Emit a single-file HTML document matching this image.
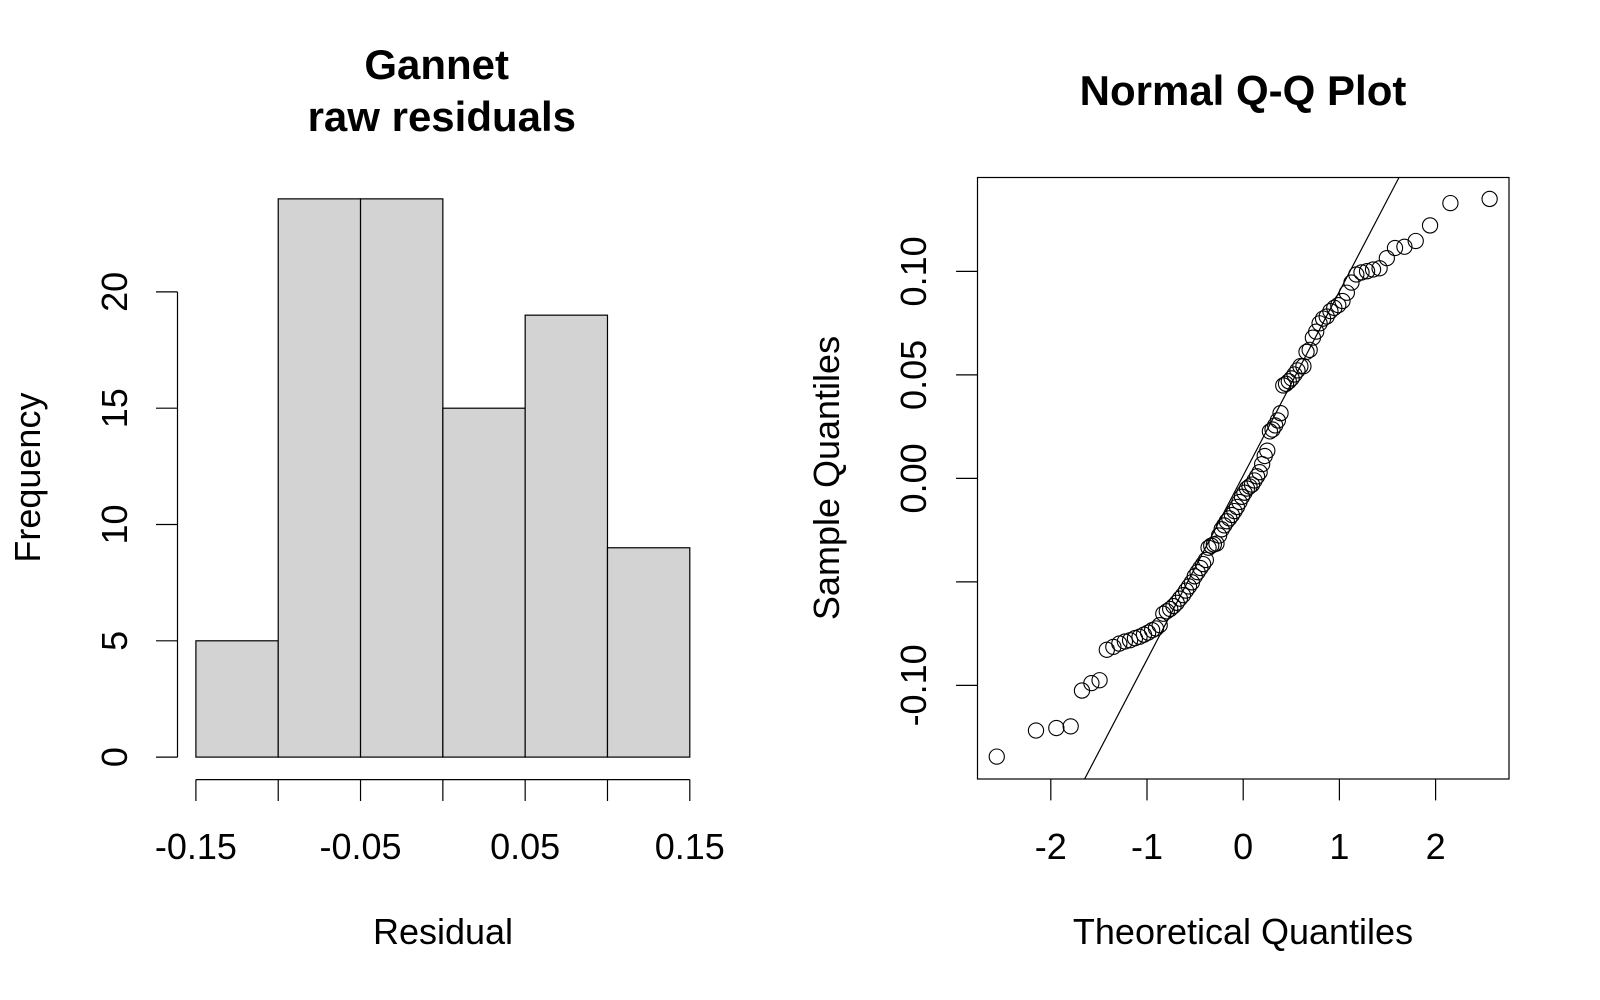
<!DOCTYPE html>
<html><head><meta charset="utf-8"><style>
html,body{margin:0;padding:0;background:#fff;overflow:hidden;width:1600px;height:1000px;}
svg{display:block;font-family:"Liberation Sans",Arial,sans-serif;}
</style></head><body>
<svg id="chart" width="1600" height="1000" viewBox="0 0 1600 1000" xmlns="http://www.w3.org/2000/svg">
<g id="hist"></g>
<g id="qq"></g>
</svg>
<script>
const histBreaks = [-0.15, -0.10, -0.05, 0.00, 0.05, 0.10, 0.15];
const histCounts = [5, 24, 24, 15, 19, 9];
const histXTickLabels = ["-0.15", "-0.05", "0.05", "0.15"];
const histXTickValues = [-0.15, -0.05, 0.05, 0.15];
const histYTicks = [0, 5, 10, 15, 20];
const qqSample = [-0.1344,-0.1218,-0.1206,-0.1198,-0.1025,-0.0989,-0.0975,-0.0828,-0.0814,-0.0798,
-0.0788,-0.0782,-0.0772,-0.0765,-0.0755,-0.0745,-0.0733,-0.0725,-0.0709,-0.0654,
-0.0642,-0.0631,-0.0617,-0.0601,-0.0581,-0.0564,-0.0542,-0.0522,-0.0502,-0.0473,
-0.0453,-0.0433,-0.0414,-0.0394,-0.0335,-0.0325,-0.0319,-0.0315,-0.0276,-0.0246,
-0.0227,-0.0207,-0.0193,-0.0177,-0.0158,-0.0138,-0.0114,-0.0089,-0.0069,-0.0049,
-0.0039,-0.0030,-0.0010,0.0010,0.0030,0.0069,0.0108,0.0134,0.0227,0.0236,
0.0256,0.0280,0.0315,0.0449,0.0457,0.0469,0.0483,0.0502,0.0522,0.0542,
0.0542,0.0611,0.0621,0.0680,0.0709,0.0749,0.0772,0.0782,0.0808,0.0824,
0.0837,0.0857,0.0897,0.0946,0.0985,0.0995,0.1001,0.1009,0.1015,0.1064,
0.1113,0.1119,0.1147,0.1222,0.1330,0.1350];
const qqXTicks = [-2, -1, 0, 1, 2];
const qqYTicks = [-0.10, -0.05, 0.00, 0.05, 0.10];
const qqYTickLabels = ["-0.10", "", "0.00", "0.05", "0.10"];

const NS = "http://www.w3.org/2000/svg";
function mk(parent, tag, attrs, text) {
  const e = document.createElementNS(NS, tag);
  for (const k in attrs) e.setAttribute(k, attrs[k]);
  if (text !== undefined) e.textContent = text;
  parent.appendChild(e);
  return e;
}
const FS = 36;
const TFS = 42;

// ---------- Histogram ----------
const H = document.getElementById('hist');
const hx = v => 195.9 + (v - (-0.15)) / 0.30 * (689.8 - 195.9);
const hy = v => 757.1 - v * 23.26;
histCounts.forEach((c, i) => {
  const r = mk(H, 'rect', {x: hx(histBreaks[i]), y: hy(c), width: hx(histBreaks[i+1]) - hx(histBreaks[i]), height: hy(0) - hy(c), fill: '#d3d3d3', stroke: '#000', 'stroke-width': 1.2});
  
  
});
let l = mk(H, 'line', {x1: hx(histBreaks[0]), x2: hx(histBreaks[histBreaks.length-1]), y1: 779.6, y2: 779.6, stroke: '#000', 'stroke-width': 1.2});
 
histBreaks.forEach(b => {
  const t = mk(H, 'line', {x1: hx(b), x2: hx(b), y1: 779.6, y2: 801, stroke: '#000', 'stroke-width': 1.2});
   
});
histXTickValues.forEach((v, i) => {
  const t = mk(H, 'text', {x: hx(v), y: 859, 'font-size': FS, 'text-anchor': 'middle'}, histXTickLabels[i]);
   
});
l = mk(H, 'line', {x1: 177.5, x2: 177.5, y1: hy(histYTicks[0]), y2: hy(histYTicks[histYTicks.length-1]), stroke: '#000', 'stroke-width': 1.2});
 
histYTicks.forEach(v => {
  const t = mk(H, 'line', {x1: 156, x2: 177.5, y1: hy(v), y2: hy(v), stroke: '#000', 'stroke-width': 1.2});
   
  const tl = mk(H, 'text', {x: 127, y: hy(v), 'font-size': FS, 'text-anchor': 'middle', transform: `rotate(-90 127 ${hy(v)})`}, String(v));
   
});
let t = mk(H, 'text', {x: 436.7, y: 79, 'font-size': TFS, 'font-weight': 'bold', 'text-anchor': 'middle'}, 'Gannet');
 
t = mk(H, 'text', {x: 441.8, y: 131, 'font-size': TFS, 'font-weight': 'bold', 'text-anchor': 'middle'}, 'raw residuals');
 
t = mk(H, 'text', {x: 443, y: 944, 'font-size': FS, 'text-anchor': 'middle'}, 'Residual');
 
t = mk(H, 'text', {x: 40, y: 477.6, 'font-size': FS, 'text-anchor': 'middle', transform: 'rotate(-90 40 477.6)'}, 'Frequency');
 

// ---------- QQ plot ----------
const Q = document.getElementById('qq');
const BX0 = 977.5, BX1 = 1509, BY0 = 177.5, BY1 = 779;
const qx = v => 1243.2 + v * 96.2;
const qy = v => 478.4 - v / 0.05 * 103.5;
function qnorm(p) {
  const a=[-3.969683028665376e+01,2.209460984245205e+02,-2.759285104469687e+02,1.383577518672690e+02,-3.066479806614716e+01,2.506628277459239e+00];
  const b=[-5.447609879822406e+01,1.615858368580409e+02,-1.556989798598866e+02,6.680131188771972e+01,-1.328068155288572e+01];
  const c=[-7.784894002430293e-03,-3.223964580411365e-01,-2.400758277161838e+00,-2.549732539343734e+00,4.374664141464968e+00,2.938163982698783e+00];
  const d=[7.784695709041462e-03,3.224671290700398e-01,2.445134137142996e+00,3.754408661907416e+00];
  const pl=0.02425;
  if (p<pl){const q=Math.sqrt(-2*Math.log(p));return (((((c[0]*q+c[1])*q+c[2])*q+c[3])*q+c[4])*q+c[5])/((((d[0]*q+d[1])*q+d[2])*q+d[3])*q+1);}
  if (p>1-pl){const q=Math.sqrt(-2*Math.log(1-p));return -(((((c[0]*q+c[1])*q+c[2])*q+c[3])*q+c[4])*q+c[5])/((((d[0]*q+d[1])*q+d[2])*q+d[3])*q+1);}
  const q=p-0.5,r=q*q;
  return (((((a[0]*r+a[1])*r+a[2])*r+a[3])*r+a[4])*r+a[5])*q/(((((b[0]*r+b[1])*r+b[2])*r+b[3])*r+b[4])*r+1);
}
const sorted = qqSample.slice().sort((a,b)=>a-b);
const n = sorted.length;
const theo = sorted.map((_, i) => qnorm((i + 1 - 0.5) / n));
let r = mk(Q, 'rect', {x: BX0, y: BY0, width: BX1-BX0, height: BY1-BY0, fill: 'none', stroke: '#000', 'stroke-width': 1.2});
 
qqXTicks.forEach(v => {
  const tk = mk(Q, 'line', {x1: qx(v), x2: qx(v), y1: BY1, y2: BY1 + 21.4, stroke: '#000', 'stroke-width': 1.2});
   
  const tl = mk(Q, 'text', {x: qx(v), y: 859, 'font-size': FS, 'text-anchor': 'middle'}, v < 0 ? '-' + Math.abs(v) : String(v));
   
});
qqYTicks.forEach((v, i) => {
  const tk = mk(Q, 'line', {x1: BX0 - 21.4, x2: BX0, y1: qy(v), y2: qy(v), stroke: '#000', 'stroke-width': 1.2});
   
  if (qqYTickLabels[i]) {
    const tl = mk(Q, 'text', {x: 926, y: qy(v), 'font-size': FS, 'text-anchor': 'middle', transform: `rotate(-90 926 ${qy(v)})`}, qqYTickLabels[i]);
     
  }
});
function quant(arr, p) { const h = (arr.length - 1) * p; const lo = Math.floor(h); return arr[lo] + (h - lo) * (arr[Math.min(lo+1, arr.length-1)] - arr[lo]); }
const y1q = quant(sorted, 0.25), y3q = quant(sorted, 0.75);
const x1q = qnorm(0.25), x3q = qnorm(0.75);
const slope = (y3q - y1q) / (x3q - x1q), icpt = y1q - slope * x1q;
const clip = mk(Q, 'clipPath', {id: 'qqclip'});
mk(clip, 'rect', {x: BX0, y: BY0, width: BX1-BX0, height: BY1-BY0});
const xa = -4, xb = 4;
l = mk(Q, 'line', {x1: qx(xa), y1: qy(icpt + slope*xa), x2: qx(xb), y2: qy(icpt + slope*xb), stroke: '#000', 'stroke-width': 1.2, 'clip-path': 'url(#qqclip)'});
 
sorted.forEach((v, i) => {
  const c = mk(Q, 'circle', {cx: qx(theo[i]), cy: qy(v), r: 7.6, fill: 'none', stroke: '#000', 'stroke-width': 1.1});
   
});
t = mk(Q, 'text', {x: 1243, y: 105, 'font-size': TFS, 'font-weight': 'bold', 'text-anchor': 'middle'}, 'Normal Q-Q Plot');
 
t = mk(Q, 'text', {x: 1243, y: 944, 'font-size': FS, 'text-anchor': 'middle'}, 'Theoretical Quantiles');
 
t = mk(Q, 'text', {x: 839, y: 478, 'font-size': FS, 'text-anchor': 'middle', transform: 'rotate(-90 839 478)'}, 'Sample Quantiles');
 
</script>
</body></html>
